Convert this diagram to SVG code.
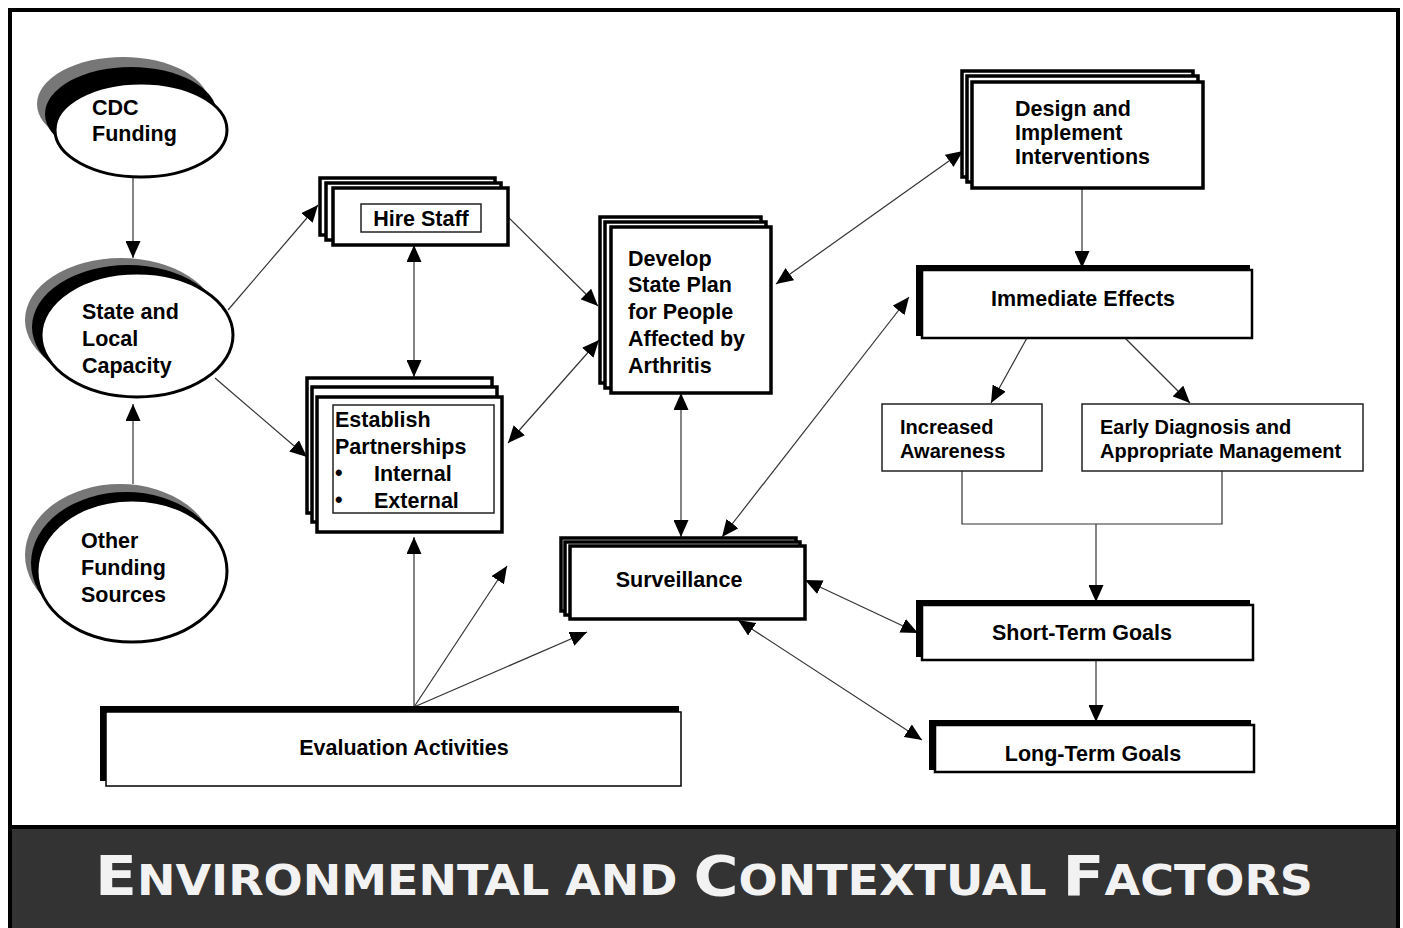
<svg xmlns="http://www.w3.org/2000/svg" width="1403" height="928" viewBox="0 0 1403 928">
<style>
text{font-family:"Liberation Sans",Arial,sans-serif;font-weight:bold;fill:#000;font-size:21.5px}
.sm{font-size:20px}
.box{fill:#fff;stroke:#000;stroke-width:3.5}
.thin{fill:#fff;stroke:#222;stroke-width:1.5}
.sh1{fill:#777}
.sh2{fill:#000}
.ell{fill:#fff;stroke:#000;stroke-width:3}
.bar{fill:#000}
.fr{fill:#fff;stroke:#000;stroke-width:2.5}
.c{fill:none;stroke:#333;stroke-width:1.2}
.title{font-family:"DejaVu Sans Condensed","Liberation Sans Narrow","DejaVu Sans",sans-serif;font-stretch:condensed;font-weight:bold;fill:#f2f2f2}
</style>
<defs>
<marker id="ah" viewBox="0 0 17 15" refX="17" refY="7.5" markerWidth="17" markerHeight="15" markerUnits="userSpaceOnUse" orient="auto-start-reverse"><path d="M0,0 L17,7.5 L0,15 z" fill="#000"/></marker>
</defs>
<rect x="0" y="0" width="1403" height="928" fill="#fff"/>
<rect x="10" y="10" width="1388" height="940" fill="#fff" stroke="#000" stroke-width="4"/>
<rect x="10" y="827" width="1388" height="110" fill="#333" stroke="#000" stroke-width="4"/>
<text class="title" x="95" y="895" textLength="1218" lengthAdjust="spacingAndGlyphs"><tspan font-size="56">E</tspan><tspan font-size="42">NVIRONMENTAL AND </tspan><tspan font-size="56">C</tspan><tspan font-size="42">ONTEXTUAL </tspan><tspan font-size="56">F</tspan><tspan font-size="42">ACTORS</tspan></text>

<g id="connectors">
<line class="c" x1="133" y1="177" x2="133" y2="258" marker-end="url(#ah)"/>
<line class="c" x1="133" y1="484" x2="133" y2="404" marker-end="url(#ah)"/>
<line class="c" x1="228" y1="310" x2="318" y2="205" marker-end="url(#ah)"/>
<line class="c" x1="215" y1="378" x2="307" y2="457" marker-end="url(#ah)"/>
<line class="c" x1="414" y1="245" x2="414" y2="377" marker-start="url(#ah)" marker-end="url(#ah)"/>
<line class="c" x1="508" y1="217" x2="598" y2="306" marker-end="url(#ah)"/>
<line class="c" x1="599" y1="340" x2="508" y2="443" marker-start="url(#ah)" marker-end="url(#ah)"/>
<line class="c" x1="681" y1="393" x2="681" y2="537" marker-start="url(#ah)" marker-end="url(#ah)"/>
<line class="c" x1="963" y1="151" x2="776" y2="284" marker-start="url(#ah)" marker-end="url(#ah)"/>
<line class="c" x1="1082" y1="188" x2="1082" y2="268" marker-end="url(#ah)"/>
<line class="c" x1="909" y1="297" x2="722" y2="537" marker-start="url(#ah)" marker-end="url(#ah)"/>
<line class="c" x1="1027" y1="338" x2="991" y2="403" marker-end="url(#ah)"/>
<line class="c" x1="1125" y1="338" x2="1190" y2="403" marker-end="url(#ah)"/>
<polyline class="c" points="962,471 962,524 1222,524 1222,471"/>
<line class="c" x1="1096" y1="524" x2="1096" y2="602" marker-end="url(#ah)"/>
<line class="c" x1="805" y1="580" x2="918" y2="633" marker-start="url(#ah)" marker-end="url(#ah)"/>
<line class="c" x1="738" y1="620" x2="922" y2="740" marker-start="url(#ah)" marker-end="url(#ah)"/>
<line class="c" x1="1096" y1="660" x2="1096" y2="722" marker-end="url(#ah)"/>
<line class="c" x1="414" y1="707" x2="414" y2="537" marker-end="url(#ah)"/>
<line class="c" x1="414" y1="707" x2="507" y2="566" marker-end="url(#ah)"/>
<line class="c" x1="414" y1="707" x2="587" y2="632" marker-end="url(#ah)"/>
</g>

<g id="cdc-funding">
<ellipse class="sh1" cx="123" cy="104" rx="86" ry="47"/>
<ellipse class="sh2" cx="131" cy="114" rx="86" ry="47"/>
<ellipse class="ell" cx="141" cy="130" rx="86" ry="47"/>
<text x="92" y="115">CDC</text>
<text x="92" y="141">Funding</text>
</g>

<g id="state-local">
<ellipse class="sh1" cx="121" cy="320" rx="96" ry="62"/>
<ellipse class="sh2" cx="128" cy="327" rx="96" ry="62"/>
<ellipse class="ell" cx="137" cy="335" rx="96" ry="62"/>
<text x="82" y="319">State and</text>
<text x="82" y="346">Local</text>
<text x="82" y="373">Capacity</text>
</g>

<g id="other-funding">
<ellipse class="sh1" cx="120" cy="555" rx="95" ry="71"/>
<ellipse class="sh2" cx="126" cy="563" rx="95" ry="71"/>
<ellipse class="ell" cx="132" cy="571" rx="95" ry="71"/>
<text x="81" y="548">Other</text>
<text x="81" y="575">Funding</text>
<text x="81" y="602">Sources</text>
</g>

<g id="hire-staff">
<rect class="box" x="320" y="178" width="175" height="57"/>
<rect class="box" x="326" y="183" width="175" height="57"/>
<rect class="box" x="333" y="188" width="175" height="57"/>
<rect class="thin" x="361" y="204" width="120" height="28"/>
<text x="421" y="226" text-anchor="middle">Hire Staff</text>
</g>

<g id="establish-partnerships">
<rect class="box" x="307" y="378" width="185" height="135"/>
<rect class="box" x="312" y="387" width="185" height="135"/>
<rect class="box" x="317" y="397" width="185" height="135"/>
<rect class="thin" x="333" y="405" width="161" height="108"/>
<text x="335" y="427">Establish</text>
<text x="335" y="454">Partnerships</text>
<text x="335" y="480" font-size="18">•</text>
<text x="374" y="481">Internal</text>
<text x="335" y="507" font-size="18">•</text>
<text x="374" y="508">External</text>
</g>

<g id="develop-state-plan">
<rect class="box" x="600" y="217" width="161" height="166"/>
<rect class="box" x="605" y="222" width="161" height="166"/>
<rect class="box" x="611" y="227" width="160" height="166"/>
<text x="628" y="266">Develop</text>
<text x="628" y="292">State Plan</text>
<text x="628" y="319">for People</text>
<text x="628" y="346">Affected by</text>
<text x="628" y="373">Arthritis</text>
</g>

<g id="design-implement">
<rect class="box" x="962" y="71" width="231" height="106"/>
<rect class="box" x="967" y="76" width="231" height="106"/>
<rect class="box" x="972" y="82" width="231" height="106"/>
<text x="1015" y="116">Design and</text>
<text x="1015" y="140">Implement</text>
<text x="1015" y="164">Interventions</text>
</g>

<g id="immediate-effects">
<rect class="bar" x="916" y="265" width="334" height="71"/>
<rect class="fr" x="922" y="270" width="330" height="68"/>
<text x="1083" y="306" text-anchor="middle">Immediate Effects</text>
</g>

<g id="increased-awareness">
<rect class="thin" x="882" y="404" width="160" height="67"/>
<text class="sm" x="900" y="434">Increased</text>
<text class="sm" x="900" y="458">Awareness</text>
</g>

<g id="early-diagnosis">
<rect class="thin" x="1082" y="404" width="281" height="67"/>
<text class="sm" x="1100" y="434">Early Diagnosis and</text>
<text class="sm" x="1100" y="458">Appropriate Management</text>
</g>

<g id="surveillance">
<rect class="box" x="561" y="538" width="235" height="73"/>
<rect class="box" x="565" y="542" width="235" height="73"/>
<rect class="box" x="570" y="546" width="235" height="73"/>
<text x="679" y="587" text-anchor="middle">Surveillance</text>
</g>

<g id="short-term-goals">
<rect class="bar" x="916" y="600" width="334" height="57"/>
<rect class="fr" x="922" y="605" width="331" height="55"/>
<text x="1082" y="640" text-anchor="middle">Short-Term Goals</text>
</g>

<g id="long-term-goals">
<rect class="bar" x="929" y="720" width="322" height="50"/>
<rect class="fr" x="935" y="725" width="319" height="47"/>
<text x="1093" y="761" text-anchor="middle">Long-Term Goals</text>
</g>

<g id="evaluation-activities">
<rect class="bar" x="100" y="706" width="579" height="75"/>
<rect x="106" y="712" width="575" height="74" fill="#fff" stroke="#000" stroke-width="1.5"/>
<text x="404" y="755" text-anchor="middle">Evaluation Activities</text>
</g>
</svg>
